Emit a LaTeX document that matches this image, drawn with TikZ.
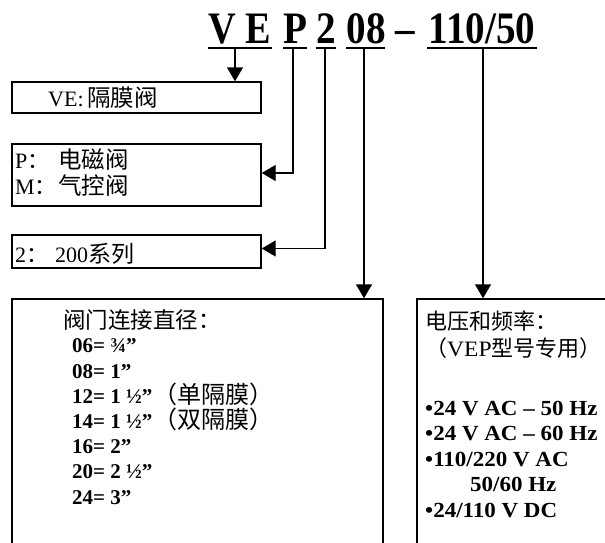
\documentclass[tikz,border=0pt]{standalone}
\usepackage{fontspec}
\setmainfont{Liberation Serif}
\newfontfamily\cjk{Noto Sans CJK SC}
\usetikzlibrary{arrows.meta}
\newcommand\wl[1]{\scalebox{1.07}[1]{#1}}
\newcommand\pzh[1]{{\cjk\mdseries\fontsize{24}{24}\selectfont #1}}
\begin{document}
\begin{tikzpicture}[x=1pt,y=-1pt,
  box/.style={draw,line width=1.4pt,minimum width=249pt,inner sep=0pt},
  bigbox/.style={draw,line width=1.4pt,inner sep=0pt},
  conn/.style={line width=1.4pt,-{Triangle[length=14pt,width=16pt]}},
  uline/.style={line width=2.2pt},
  ttl/.style={font=\fontsize{45}{45}\selectfont\bfseries,inner sep=0pt,anchor=base},
  lbl/.style={inner sep=0pt,anchor=base west,font=\fontsize{22}{22}\selectfont},
  lst/.style={inner sep=0pt,anchor=base west,align=left,font=\fontsize{21}{25.17}\selectfont\bfseries},
  lst5/.style={inner sep=0pt,anchor=base west,align=left,font=\fontsize{21.5}{25.5}\selectfont\bfseries},
  zh/.style={inner sep=0pt,anchor=base west,align=left,font=\cjk\fontsize{22}{27}\selectfont}
]
\useasboundingbox (0,0) rectangle (605,542);
\fill[white] (0,0) rectangle (605,542);
\clip (0,0) rectangle (605,542);

% title
\node[ttl] (tVE) at (240,43) {\scalebox{0.85}[1]{V E}};
\node[ttl] (tP)  at (295,43) {\scalebox{0.87}[1]{P}};
\node[ttl] (t2)  at (326,43) {\scalebox{0.87}[1]{2}};
\node[ttl] (t08) at (366,43) {\scalebox{0.87}[1]{08}};
\node[ttl] (tda) at (405,43) {\scalebox{0.87}[1]{–}};
\node[ttl] (t110) at (482,43) {\scalebox{0.87}[1]{110/50}};
\draw[uline] (208,48) coordinate (uVEa) -- (272,48) coordinate (uVEb);
\draw[uline] (283,48) coordinate (uPa) -- (307,48) coordinate (uPb);
\draw[uline] (316,48) coordinate (u2a) -- (336,48) coordinate (u2b);
\draw[uline] (346,48) coordinate (u08a) -- (385,48) coordinate (u08b);
\draw[uline] (427,48) coordinate (u110a) -- (537,48) coordinate (u110b);

% boxes
\node[box,minimum height=31pt] (b1) at (136.5,97.5) {};
\node[box,minimum height=62pt] (b2) at (136.5,175) {};
\node[box,minimum height=33pt] (b3) at (136.5,251.5) {};
\node[bigbox,minimum width=371pt,minimum height=270pt] (b4) at (197.5,434) {};
\node[bigbox,minimum width=210pt,minimum height=270pt] (b5) at (522,434) {};

% connectors
\coordinate (cVE) at (235,48);
\coordinate (cP) at (293,48);
\coordinate (c2) at (325,48);
\coordinate (c08) at (364,48);
\coordinate (c110) at (483,48);
\draw[conn] (cVE) -- (b1.north -| cVE);
\draw[conn] (cP) |- ([yshift=2pt]b2.east);
\draw[conn] (c2) |- ([yshift=3pt]b3.east);
\draw[conn] (c08) -- (b4.north -| c08);
\draw[conn] (c110) -- (b5.north -| c110);

% box texts
\node[lbl] (x1) at (48,106) {VE:\,{\cjk\fontsize{23.5}{23.5}\selectfont 隔膜阀}};
\node[lbl] (x2a) at (15,168) {\makebox[43pt][l]{P{\cjk ：}}{\cjk\fontsize{23.5}{23.5}\selectfont 电磁阀}};
\node[lbl] (x2b) at (15,194) {\makebox[43pt][l]{M{\cjk ：}}{\cjk\fontsize{23.5}{23.5}\selectfont 气控阀}};
\node[lbl] (x3) at (15,262) {\makebox[40pt][l]{2{\cjk ：}}200{\cjk\fontsize{23}{23}\selectfont 系列}};

\node[zh,font=\cjk\fontsize{22.5}{27}\selectfont] (x4h) at (63,328) {阀门连接直径：};
\node[lst] (x4) at (72,504) {06= ¾”\\
08= 1”\\
12= 1 ½”\hspace{1pt}\pzh{（单隔膜）}\\
14= 1 ½”\hspace{1pt}\pzh{（双隔膜）}\\
16= 2”\\
20= 2 ½”\\
24= 3”};

\node[zh] (x5h) at (425,356) {电压和频率：\\（{\rmfamily\wl{VEP}}型号专用）};
\node[lst5] (x5) at (425,517) {\wl{•24 V AC – 50 Hz}\\
\wl{•24 V AC – 60 Hz}\\
\wl{•110/220 V AC}\\
\hspace*{45pt}\wl{50/60 Hz}\\
\wl{•24/110 V DC}};
\end{tikzpicture}
\end{document}
